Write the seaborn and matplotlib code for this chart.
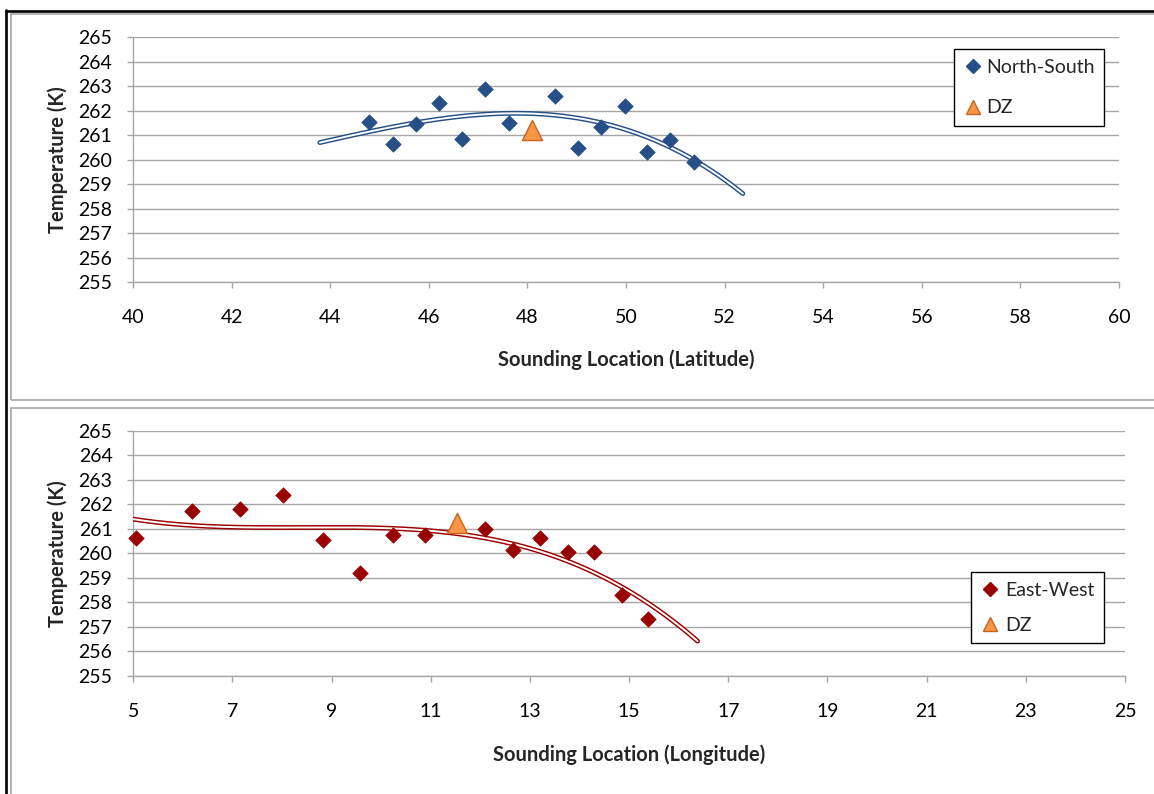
import numpy as np
import pandas as pd
import matplotlib
matplotlib.use("Agg")
import matplotlib.pyplot as plt
import seaborn as sns
from matplotlib.lines import Line2D
from matplotlib.patches import Rectangle

# North-South transect: sounding latitude (deg) and temperature (K)
ns_lat = [44.79, 45.27, 45.74, 46.21, 46.68, 47.15, 47.62, 48.55, 49.03,
          49.49, 49.97, 50.43, 50.90, 51.37]
ns_temp = [261.55, 260.64, 261.46, 262.33, 260.86, 262.89, 261.49, 262.62,
           260.49, 261.35, 262.21, 260.33, 260.82, 259.90]
dz_lat = [48.10]
dz_temp_lat = [261.22]

# East-West transect: sounding longitude (deg) and temperature (K)
ew_lon = [5.05, 6.18, 7.15, 8.02, 8.83, 9.57, 10.24, 10.88, 12.10, 12.66,
          13.21, 13.76, 14.29, 14.85, 15.38]
ew_temp = [260.61, 261.74, 261.79, 262.36, 260.53, 259.20, 260.76, 260.76,
           260.99, 260.15, 260.64, 260.06, 260.07, 258.31, 257.32]
dz_lon = [11.53]
dz_temp_lon = [261.25]

# polynomial trend settings (order, forecast distance on both sides)
ns_order, ew_order = 3, 3
forecast = 1.0

lat_ticks = list(range(40, 61, 2))
lon_ticks = list(range(5, 26, 2))
temp_ticks = list(range(255, 266))

BLUE = "#254F86"
RED = "#990000"
DZ_FILL = "#F79646"
DZ_EDGE = "#C8641E"
GRID = "#A6A6A6"
FS = 14

sns.set_theme(style="white")
plt.rcParams["font.family"] = ["Lato", "DejaVu Sans"]

W, H = 1154, 794
fig = plt.figure(figsize=(W / 100, H / 100), dpi=100)


def fx(px):
    return px / W


def fy(py):
    return 1 - py / H


# chart-area frames
fig.add_artist(Rectangle((fx(10.5), fy(400)), 1.0, fy(14) - fy(400),
                         fill=False, ec=GRID, lw=1.2, transform=fig.transFigure))
fig.add_artist(Rectangle((fx(10.5), fy(800)), 1.0, fy(408) - fy(800),
                         fill=False, ec=GRID, lw=1.2, transform=fig.transFigure))
fig.add_artist(Line2D([fx(6.2), fx(6.2)], [fy(10), 0], color="black", lw=1.9,
                      transform=fig.transFigure))
fig.add_artist(Line2D([fx(5.5), 1], [fy(11), fy(11)], color="black", lw=1.9,
                      transform=fig.transFigure))

ax1 = fig.add_axes([fx(133), fy(282.3), (1119 - 133) / W, (282.3 - 37.3) / H])
ax2 = fig.add_axes([fx(133.3), fy(676), (1125 - 133.3) / W, (676 - 430.7) / H])


def trend(ax, x, y, order, color, lo_lim):
    coef = np.polyfit(x, y, order)
    xs = np.linspace(max(min(x) - forecast, lo_lim), max(x) + forecast, 300)
    ys = np.polyval(coef, xs)
    sns.lineplot(x=xs, y=ys, ax=ax, color=color, lw=3.5, sort=False,
                 solid_capstyle="round", zorder=3)
    sns.lineplot(x=xs, y=ys, ax=ax, color="white", lw=1.4, sort=False,
                 solid_capstyle="round", zorder=3.1)


def style(ax, xticks, xlabel, xpad_label):
    ax.set_ylim(255, 265)
    ax.set_yticks(temp_ticks)
    ax.set_xticks(xticks)
    ax.set_xlim(xticks[0], xticks[-1])
    ax.yaxis.grid(True, color=GRID, lw=1.0)
    ax.xaxis.grid(False)
    ax.set_axisbelow(True)
    for s in ("top", "right"):
        ax.spines[s].set_visible(False)
    for s in ("left", "bottom"):
        ax.spines[s].set_color(GRID)
        ax.spines[s].set_linewidth(1.0)
    ax.tick_params(axis="both", direction="out", length=4, width=1.0,
                   color=GRID, labelsize=FS, labelcolor="black")
    ax.tick_params(axis="y", pad=11.0, left=True)
    ax.tick_params(axis="x", pad=15.5, bottom=True)
    ax.set_xlabel(xlabel, fontsize=FS + 0.5, fontweight="bold")
    ax.set_ylabel("Temperature (K)", fontsize=FS + 0.5, fontweight="bold")
    ax.xaxis.set_label_coords(0.5, xpad_label)
    ax.yaxis.set_label_coords(-0.066, 0.5)


def legend(ax, label, color, right, top, pad, spacing, tpad):
    handles = [
        Line2D([], [], ls="none", marker="D", ms=7.6, mfc=color, mec=color),
        Line2D([], [], ls="none", marker="^", ms=10.5, mfc=DZ_FILL, mec=DZ_EDGE, mew=1),
    ]
    leg = ax.legend(handles, [label, "DZ"], loc="upper right",
                    bbox_to_anchor=(fx(right), fy(top)), bbox_transform=fig.transFigure,
                    frameon=True, fancybox=False, edgecolor="black", framealpha=1,
                    borderpad=pad, labelspacing=spacing, handlelength=0.95,
                    handletextpad=tpad, borderaxespad=0, fontsize=FS)
    leg.get_frame().set_linewidth(1.0)


# top panel: latitude
trend(ax1, ns_lat, ns_temp, ns_order, BLUE, 40)
sns.scatterplot(x=ns_lat, y=ns_temp, ax=ax1, marker="D", s=62, color=BLUE,
                edgecolor=BLUE, linewidth=0.5, zorder=4, clip_on=False)
sns.scatterplot(x=dz_lat, y=dz_temp_lat, ax=ax1, marker="^", s=210, color=DZ_FILL,
                edgecolor=DZ_EDGE, linewidth=1.0, zorder=5, clip_on=False)
style(ax1, lat_ticks, "Sounding Location (Latitude)", -0.275)
legend(ax1, "North-South", BLUE, 1104, 49.3, 0.5, 1.2, 0.2)

# bottom panel: longitude
trend(ax2, ew_lon, ew_temp, ew_order, RED, 5)
sns.scatterplot(x=ew_lon, y=ew_temp, ax=ax2, marker="D", s=62, color=RED,
                edgecolor=RED, linewidth=0.5, zorder=4, clip_on=False)
sns.scatterplot(x=dz_lon, y=dz_temp_lon, ax=ax2, marker="^", s=210, color=DZ_FILL,
                edgecolor=DZ_EDGE, linewidth=1.0, zorder=5, clip_on=False)
style(ax2, lon_ticks, "Sounding Location (Longitude)", -0.278)
legend(ax2, "East-West", RED, 1104.3, 572.3, 0.5, 0.9, 0.3)

fig.savefig("out.png", dpi=100, facecolor="white")
